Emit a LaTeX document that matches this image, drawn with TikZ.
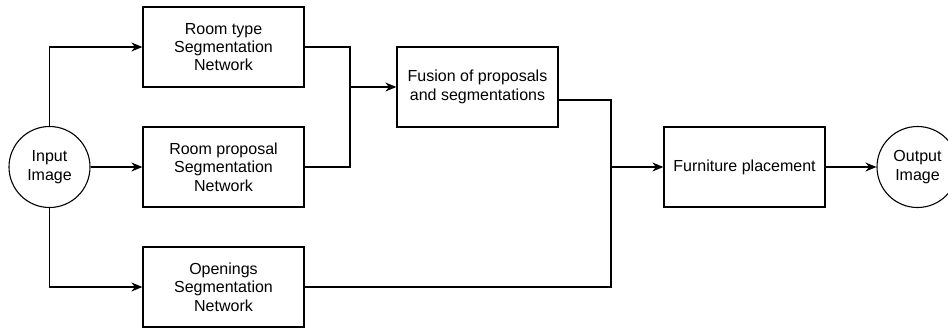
\documentclass[tikz,border=0pt]{standalone}
\usepackage{fontspec}
\setmainfont{Liberation Sans}
\usetikzlibrary{arrows.meta}
\begin{document}
\begin{tikzpicture}[x=1pt,y=-1pt,
	box/.style={draw,line width=1.3pt,minimum width=161pt,minimum height=80pt,align=center,inner sep=2pt},
	ring/.style={draw,circle,line width=1.1pt,minimum size=81pt,align=center,inner sep=0pt},
	link/.style={line width=1.3pt},
	arr/.style={line width=1.3pt,-{Stealth[length=11pt,width=9pt]}},
	font=\fontsize{16}{18.4}\selectfont]
		\useasboundingbox (0,0) rectangle (948,327);
		\node [ring] (in) at (49.5,167) {Input\\Image};
		\node [box] (rtype) at (223.5,47) {Room type\\Segmentation\\Network};
		\node [box] (rprop) at (223.5,167) {Room proposal\\Segmentation\\Network};
		\node [box] (open) at (223.5,287) {Openings\\Segmentation\\Network};
		\node [box] (fusion) at (477.5,87) {Fusion of proposals\\and segmentations};
		\node [box] (furn) at (744.5,167) {Furniture placement};
		\node [ring] (out) at (917.5,167) {Output\\Image};
		\coordinate (j1) at (350,87);
		\coordinate (j2) at (611,167);
		\draw [arr] (in) |- (rtype);
		\draw [arr] (in) -- (rprop);
		\draw [arr] (in) |- (open);
		\draw [link] (rtype) -| (j1);
		\draw [link] (rprop) -| (j1);
		\draw [arr] (j1) -- (fusion);
		\draw [link] ([yshift=-13pt]fusion.east) -| (j2);
		\draw [link] (open) -| (j2);
		\draw [arr] (j2) -- (furn);
		\draw [arr] (furn) -- (out);
\end{tikzpicture}
\end{document}
